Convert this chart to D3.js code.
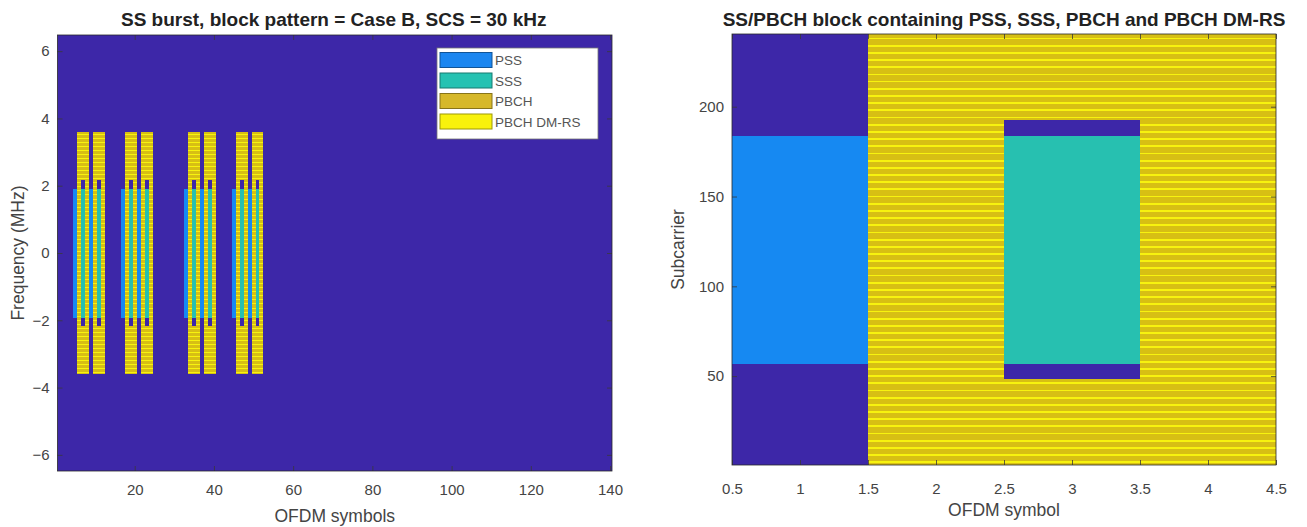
<!DOCTYPE html>
<html><head><meta charset="utf-8">
<script src="https://cdn.jsdelivr.net/npm/d3@7"></script>
<style>
body{margin:0;background:#fff}
svg{display:block}
text{font-family:"Liberation Sans",Arial,Helvetica,sans-serif}
</style>
</head><body>
<svg id="c" width="1307" height="527"></svg>
<script>
// ---------------- data ----------------
const legendLabels = ["PSS", "SSS", "PBCH", "PBCH DM-RS"];
const valueColors = ["#3d27a8", "#1689f2", "#27c0b0", "#d7bf14", "#f7f30f"]; // 0 empty, 1 PSS, 2 SSS, 3 PBCH, 4 DM-RS
const legendColors = ["#1b86f0", "#26c2b2", "#d6b82a", "#f8f20c"];
const burstSymbols = 140;
const ssbStartSymbols = [4, 8, 16, 20, 32, 36, 44, 48];   // Case B, L = 8
const ssbSymbols = 4;
const ssbSubcarriers = 240;
const scsKHz = 30;
const gridHalfWidthMHz = 6.48;
const pssSubcarriers = [56, 182];
const sssSubcarriers = [56, 182];
const pbchEdgeSubcarriers = [[0, 47], [192, 239]];
const dmrsOffset = 1;           // NCellID mod 4
const leftXTicks = [20, 40, 60, 80, 100, 120, 140];
const leftYTicks = [-6, -4, -2, 0, 2, 4, 6];
const rightXTicks = [0.5, 1, 1.5, 2, 2.5, 3, 3.5, 4, 4.5];
const rightYTicks = [50, 100, 150, 200];

// ---------------- SSB resource grid ----------------
function inR(k, r) { return k >= r[0] && k <= r[1]; }
function pbchVal(k) { return (k % 4 === dmrsOffset) ? 4 : 3; }
const block = [];
for (let s = 0; s < ssbSymbols; s++) {
  const col = [];
  for (let k = 0; k < ssbSubcarriers; k++) {
    let v = 0;
    if (s === 0) v = inR(k, pssSubcarriers) ? 1 : 0;
    else if (s === 2) {
      if (inR(k, sssSubcarriers)) v = 2;
      else if (pbchEdgeSubcarriers.some(r => inR(k, r))) v = pbchVal(k);
    } else v = pbchVal(k);
    col.push(v);
  }
  block.push(col);
}
function runs(col) {
  const out = []; let k0 = 0;
  for (let k = 1; k <= col.length; k++) {
    if (k === col.length || col[k] !== col[k0]) { out.push({k0, k1: k - 1, v: col[k0]}); k0 = k; }
  }
  return out;
}
const blockRuns = block.map(runs);

const svg = d3.select("#c");
const tickColor = "#3a3a3a";
const labelColor = "#444";
const tickFont = "15px";
const labelFont = "17.5px";
const titleFont = "19px";

function box(g, x0, x1, y0, y1) {
  g.append("rect").attr("x", x0).attr("y", y0).attr("width", x1 - x0).attr("height", y1 - y0)
    .attr("fill", "none").attr("stroke", "#2a2a2a").attr("stroke-width", 0.8);
}
function styleAxis(ax) {
  ax.select(".domain").remove();
  ax.selectAll(".tick line").attr("stroke", tickColor).attr("stroke-width", 0.8);
  ax.selectAll(".tick text").attr("fill", labelColor).style("font-size", tickFont);
}

// ---------------- left: SS burst ----------------
const L = {x0: 57.5, x1: 612, y0: 35, y1: 471};
const xL = d3.scaleLinear().domain([0.5, burstSymbols + 0.5]).range([L.x0, L.x1]);
const yL = d3.scaleLinear().domain([-gridHalfWidthMHz, gridHalfWidthMHz]).range([L.y1, L.y0]);
const gL = svg.append("g");
gL.append("rect").attr("x", L.x0).attr("y", L.y0).attr("width", L.x1 - L.x0).attr("height", L.y1 - L.y0)
  .attr("fill", valueColors[0]);
const fMHz = k => (k - ssbSubcarriers / 2) * scsKHz / 1000;
const cells = gL.append("g").attr("shape-rendering", "crispEdges");
ssbStartSymbols.forEach(s0 => {
  blockRuns.forEach((rs, i) => {
    const sym = s0 + i + 1; // 1-based
    rs.filter(r => r.v !== 0).forEach(r => {
      const ya = yL(fMHz(r.k1 + 1)), yb = yL(fMHz(r.k0));
      cells.append("rect").attr("x", xL(sym - 0.5)).attr("width", xL(sym + 0.5) - xL(sym - 0.5))
        .attr("y", ya).attr("height", yb - ya).attr("fill", valueColors[r.v]);
    });
  });
});
const axLB = gL.append("g").attr("transform", `translate(0,${L.y1})`)
  .call(d3.axisBottom(xL).tickValues(leftXTicks).tickSize(-5).tickPadding(13).tickFormat(d3.format("d")));
styleAxis(axLB);
const axLT = gL.append("g").attr("transform", `translate(0,${L.y0})`)
  .call(d3.axisTop(xL).tickValues(leftXTicks).tickSize(-5).tickFormat(""));
styleAxis(axLT);
const axLL = gL.append("g").attr("transform", `translate(${L.x0},0)`)
  .call(d3.axisLeft(yL).tickValues(leftYTicks).tickSize(-5).tickPadding(8).tickFormat(d3.format("d")));
styleAxis(axLL);
const axLR = gL.append("g").attr("transform", `translate(${L.x1},0)`)
  .call(d3.axisRight(yL).tickValues(leftYTicks).tickSize(-5).tickFormat(""));
styleAxis(axLR);
box(gL, L.x0, L.x1, L.y0, L.y1);

gL.append("text").attr("x", (L.x0 + L.x1) / 2 - 1).attr("y", 26).attr("text-anchor", "middle")
  .style("font-size", titleFont).style("font-weight", "bold").attr("fill", "#222")
  .text("SS burst, block pattern = Case B, SCS = 30 kHz");
gL.append("text").attr("x", (L.x0 + L.x1) / 2).attr("y", 522).attr("text-anchor", "middle")
  .style("font-size", labelFont).attr("fill", labelColor).text("OFDM symbols");
gL.append("text").attr("transform", `translate(24,${(L.y0 + L.y1) / 2}) rotate(-90)`).attr("text-anchor", "middle")
  .style("font-size", labelFont).attr("fill", labelColor).text("Frequency (MHz)");

// legend
const lg = gL.append("g");
lg.append("rect").attr("x", 437).attr("y", 48).attr("width", 161).attr("height", 91)
  .attr("fill", "#fff").attr("stroke", "#777").attr("stroke-width", 0.8);
legendLabels.forEach((lab, i) => {
  const cy = 60 + i * 20.5;
  lg.append("rect").attr("x", 440).attr("y", cy - 7.5).attr("width", 52).attr("height", 15)
    .attr("fill", legendColors[i]).attr("stroke", d3.color(legendColors[i]).darker(1.3)).attr("stroke-width", 1);
  lg.append("text").attr("x", 495).attr("y", cy + 5).style("font-size", "13.5px").attr("fill", "#555").text(lab);
});

// ---------------- right: SS/PBCH block ----------------
const R = {x0: 732, x1: 1276, y0: 34, y1: 465};
const xR = d3.scaleLinear().domain([0.5, ssbSymbols + 0.5]).range([R.x0, R.x1]);
const yR = d3.scaleLinear().domain([0.5, ssbSubcarriers + 0.5]).range([R.y1, R.y0]);
const gR = svg.append("g");
const cellsR = gR.append("g").attr("shape-rendering", "crispEdges");
blockRuns.forEach((rs, i) => {
  const sym = i + 1;
  rs.forEach(r => {
    const ya = yR(r.k1 + 1.5), yb = yR(r.k0 + 0.5);
    cellsR.append("rect").attr("x", xR(sym - 0.5)).attr("width", xR(sym + 0.5) - xR(sym - 0.5))
      .attr("y", ya).attr("height", yb - ya).attr("fill", valueColors[r.v]);
  });
});
const axRB = gR.append("g").attr("transform", `translate(0,${R.y1})`)
  .call(d3.axisBottom(xR).tickValues(rightXTicks).tickSize(-5).tickPadding(18).tickFormat(d3.format("~g")));
styleAxis(axRB);
const axRT = gR.append("g").attr("transform", `translate(0,${R.y0})`)
  .call(d3.axisTop(xR).tickValues(rightXTicks).tickSize(-5).tickFormat(""));
styleAxis(axRT);
const axRL = gR.append("g").attr("transform", `translate(${R.x0},0)`)
  .call(d3.axisLeft(yR).tickValues(rightYTicks).tickSize(-5).tickPadding(8).tickFormat(d3.format("d")));
styleAxis(axRL);
const axRR = gR.append("g").attr("transform", `translate(${R.x1},0)`)
  .call(d3.axisRight(yR).tickValues(rightYTicks).tickSize(-5).tickFormat(""));
styleAxis(axRR);
box(gR, R.x0, R.x1, R.y0, R.y1);

gR.append("text").attr("x", (R.x0 + R.x1) / 2).attr("y", 26).attr("text-anchor", "middle")
  .style("font-size", titleFont).style("font-weight", "bold").attr("fill", "#222")
  .text("SS/PBCH block containing PSS, SSS, PBCH and PBCH DM-RS");
gR.append("text").attr("x", (R.x0 + R.x1) / 2).attr("y", 516).attr("text-anchor", "middle")
  .style("font-size", labelFont).attr("fill", labelColor).text("OFDM symbol");
gR.append("text").attr("transform", `translate(684,${(R.y0 + R.y1) / 2}) rotate(-90)`).attr("text-anchor", "middle")
  .style("font-size", labelFont).attr("fill", labelColor).text("Subcarrier");
</script>
</body></html>
